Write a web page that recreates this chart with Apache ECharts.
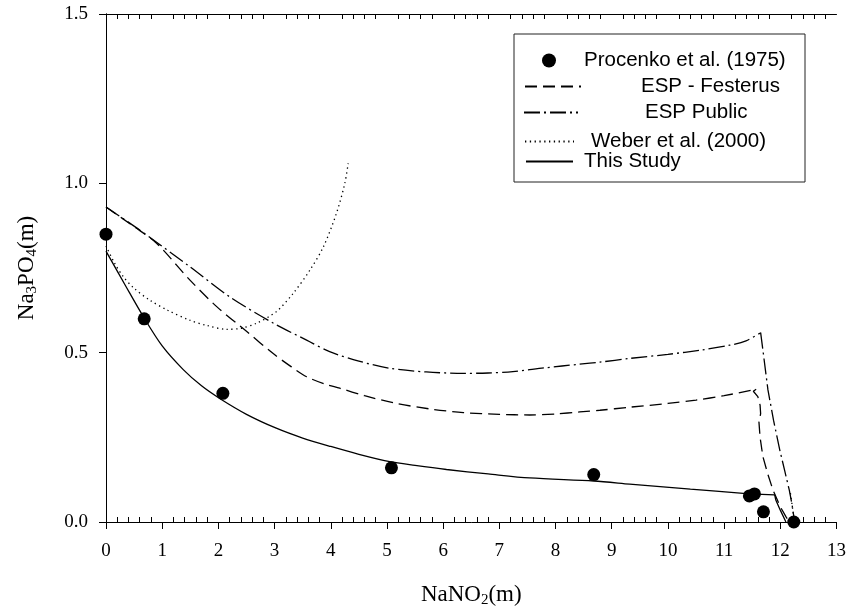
<!DOCTYPE html>
<html><head><meta charset="utf-8">
<script src="https://cdn.jsdelivr.net/npm/echarts@6/dist/echarts.min.js"></script>
<style>html,body{margin:0;padding:0;background:#fff}#c{width:849px;height:614px}</style>
</head><body><div id="c"></div>
<script>
// ---- data ----
const xTickValues = [0,1,2,3,4,5,6,7,8,9,10,11,12,13];
const yTickLabels = ['0.0','0.5','1.0','1.5'];
const seriesNames = ['Procenko et al. (1975)','ESP - Festerus','ESP Public','Weber et al. (2000)','This Study'];

const procenko = [[0,0.85],[0.68,0.60],[2.08,0.38],[5.08,0.16],[8.68,0.14],[11.45,0.077],[11.54,0.083],[11.70,0.03],[12.24,0.0]];

const espFesterus = [[0,0.93],[0.5,0.872],[0.9,0.823],[1.49,0.715],[1.97,0.636],[2.5,0.563],[2.97,0.498],[3.3,0.458],[3.57,0.429],[3.9,0.407],[4.16,0.395],[4.6,0.373],[5.17,0.350],[5.8,0.333],[6.36,0.323],[7.0,0.318],[7.54,0.316],[8.0,0.319],[8.43,0.325],[8.79,0.330],[9.32,0.339],[10.0,0.350],[10.5,0.360],[11.0,0.373],[11.57,0.392]];
const espFesterusTail = [[11.57,0.392],[11.52,0.386],[11.6,0.37],[11.64,0.345],[11.65,0.32],[11.62,0.295],[11.64,0.25],[11.69,0.193],[11.78,0.14],[11.87,0.094],[12.0,0.045],[12.1,0.016],[12.16,0.0]];

const espPublic = [[0,0.93],[0.6,0.862],[1.49,0.754],[2.2,0.665],[2.98,0.587],[3.57,0.537],[3.98,0.503],[4.5,0.475],[5.05,0.454],[5.7,0.443],[6.36,0.439],[6.8,0.440],[7.24,0.444],[7.8,0.455],[8.43,0.466],[8.79,0.472],[9.32,0.483],[10.0,0.495],[10.6,0.508],[11.1,0.522],[11.39,0.535],[11.65,0.559]];
const espPublicTail = [[11.65,0.559],[11.69,0.508],[11.78,0.39],[11.88,0.30],[11.99,0.213],[12.08,0.15],[12.16,0.094],[12.21,0.05],[12.25,0.006]];

const weber = [[0,0.815],[0.15,0.765],[0.31,0.724],[0.5,0.690],[0.78,0.655],[1.1,0.625],[1.49,0.596],[1.8,0.580],[2.15,0.569],[2.4,0.572],[2.68,0.587],[3.03,0.621],[3.33,0.675],[3.63,0.744],[3.87,0.813],[4.10,0.911],[4.25,1.0],[4.31,1.059]];
const weberTail = [[12.18,0.085],[12.21,0.05],[12.24,0.012]];

const thisStudy = [[0,0.80],[0.35,0.697],[0.68,0.602],[1.0,0.52],[1.375,0.45],[1.7,0.402],[2.03,0.364],[2.5,0.318],[3.03,0.277],[3.5,0.248],[4.0,0.223],[4.5,0.200],[5.05,0.178],[5.5,0.167],[6.06,0.155],[6.8,0.142],[7.54,0.130],[8.68,0.121],[9.32,0.112],[10.4,0.097],[11.45,0.083]];
const thisStudyTail = [[11.45,0.083],[11.9,0.080],[11.92,0.065],[12.0,0.035],[12.1,0.0]];

// ---- chart ----
const serif = 'Liberation Serif';
const sans = 'Liberation Sans';
const black = '#000';
const lw = 1.3;

const nameRich = {
  m: {fontFamily: serif, fontSize: 23, color: black, lineHeight: 26},
  sub: {fontFamily: serif, fontSize: 15, color: black, lineHeight: 12, verticalAlign: 'bottom'}
};

function legendItem(name, left, centerY, width, padLeft, hideSymbol) {
  const l = {
    data: [name], left: left, top: centerY - 7, itemWidth: width, itemHeight: 14,
    padding: 0, selectedMode: false, itemGap: 0,
    textStyle: {fontFamily: sans, fontSize: 20.5, color: black, padding: [0, 0, 0, padLeft]}
  };
  if (hideSymbol) l.itemStyle = {color: 'rgba(0,0,0,0)', borderWidth: 0, borderColor: 'rgba(0,0,0,0)'};
  return l;
}

function lineSeries(name, data, dash, smooth) {
  return {name: name, type: 'line', data: data, symbol: 'none', z: 2, smooth: smooth,
    lineStyle: {color: black, width: lw, type: dash}, itemStyle: {color: black}};
}

const dashF = [12, 6];
const dashP = [16, 4, 2, 4];
const dotW = [1.3, 3.5];

const option = {
  animation: false,
  backgroundColor: '#fff',
  grid: {left: 106, right: 12, top: 14, bottom: 92, containLabel: false},
  xAxis: [
    {
      type: 'value', min: 0, max: 13, interval: 1, position: 'bottom',
      axisLine: {lineStyle: {color: black, width: 1}},
      axisTick: {show: true, length: 7, lineStyle: {color: black}},
      axisLabel: {margin: 20, fontFamily: serif, fontSize: 19, color: black,
        formatter: v => xTickValues.includes(v) ? String(v) : ''},
      splitLine: {show: false},
      name: '{m|NaNO}{sub|2}{m|(m)}', nameLocation: 'middle', nameGap: 60,
      nameTextStyle: {rich: nameRich}
    },
    {
      type: 'value', min: 0, max: 13, interval: 1, position: 'bottom',
      axisLine: {show: false},
      axisTick: {show: false, inside: true},
      minorTick: {show: true, splitNumber: 5, length: 5, lineStyle: {color: black}},
      axisLabel: {show: false}, splitLine: {show: false}
    },
    {
      type: 'value', min: 0, max: 13, interval: 1, position: 'top',
      axisLine: {show: true, lineStyle: {color: black, width: 1}},
      axisTick: {show: false, inside: true},
      minorTick: {show: true, splitNumber: 5, length: 5, lineStyle: {color: black}},
      axisLabel: {show: false}, splitLine: {show: false}
    }
  ],
  yAxis: [
    {
      type: 'value', min: 0, max: 1.5, interval: 0.5, position: 'left',
      axisLine: {show: true, lineStyle: {color: black, width: 1}},
      axisTick: {show: true, length: 7, lineStyle: {color: black}},
      axisLabel: {margin: 18, fontFamily: serif, fontSize: 19, color: black,
        formatter: v => yTickLabels[Math.round(v / 0.5)] || ''},
      splitLine: {show: false},
      name: '{m|Na}{sub|3}{m|PO}{sub|4}{m|(m)}', nameLocation: 'middle', nameRotate: 90, nameGap: 66,
      nameTextStyle: {rich: nameRich}
    },
    {
      type: 'value', min: 0, max: 1.5, interval: 0.5, position: 'right',
      axisLine: {show: true, lineStyle: {color: black, width: 1}},
      axisTick: {show: false}, axisLabel: {show: false}, splitLine: {show: false}
    }
  ],
  legend: [
    legendItem(seriesNames[0], 542, 57, 14, 23, false),
    legendItem(seriesNames[1], 524, 83, 56, 55, true),
    legendItem(seriesNames[2], 523, 109, 54, 62, true),
    legendItem(seriesNames[3], 524, 138, 49, 12, true),
    legendItem(seriesNames[4], 525, 158, 47, 6, true)
  ],
  graphic: [{
    type: 'rect', shape: {x: 514, y: 34, width: 291, height: 148},
    style: {fill: 'none', stroke: '#222', lineWidth: 1}, z: 100
  }],
  series: [
    lineSeries(seriesNames[1], espFesterus, dashF, 0.3),
    lineSeries(seriesNames[1], espFesterusTail, dashF, false),
    lineSeries(seriesNames[2], espPublic, dashP, 0.3),
    lineSeries(seriesNames[2], espPublicTail, dashP, false),
    lineSeries(seriesNames[3], weber, dotW, 0.3),
    lineSeries(seriesNames[3], weberTail, dotW, false),
    lineSeries(seriesNames[4], thisStudy, 'solid', 0.3),
    lineSeries(seriesNames[4], thisStudyTail, 'solid', false),
    {name: seriesNames[0], type: 'scatter', data: procenko, symbol: 'circle', symbolSize: 13, z: 3,
      itemStyle: {color: black, opacity: 1}}
  ]
};

const chart = echarts.init(document.getElementById('c'), null, {renderer: 'canvas'});
chart.setOption(option);
</script>
</body></html>
